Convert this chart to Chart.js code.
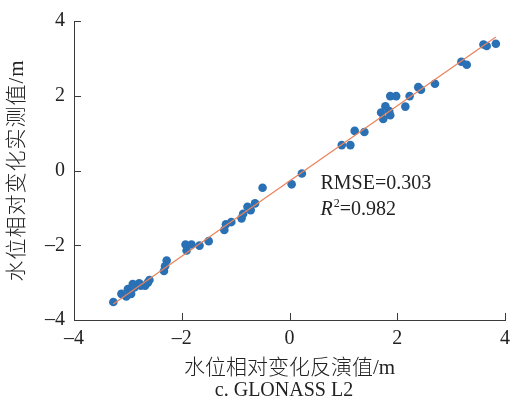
<!DOCTYPE html>
<html>
<head>
<meta charset="utf-8">
<script src="https://cdn.jsdelivr.net/npm/chart.js@4/dist/chart.umd.min.js"></script>
<style>
html,body{margin:0;padding:0;background:#fff;}
#wrap{width:517px;height:409px;}
</style>
</head>
<body>
<div id="wrap"><canvas id="c" width="517" height="409"></canvas></div>
<script>
// ---- data ----
const obsX = [-3.27,-3.12,-3.03,-3.00,-2.96,-2.94,-2.91,-2.88,-2.79,-2.76,-2.68,-2.63,-2.60,
  -2.33,-2.31,-2.28,-1.93,-1.91,-1.82,-1.67,-1.50,-1.21,-1.18,-1.08,-0.89,-0.86,-0.78,-0.72,-0.64,-0.50,
  0.04,0.23,0.97,1.13,1.21,1.39,1.70,1.74,1.78,1.85,1.87,1.87,1.98,2.15,2.23,2.39,2.44,2.70,3.19,3.29,3.60,3.66,3.83];
const obsY = [-3.52,-3.30,-3.37,-3.17,-3.22,-3.30,-3.04,-3.13,-3.02,-3.08,-3.08,-3.00,-2.93,
  -2.69,-2.56,-2.41,-1.98,-2.14,-1.98,-2.01,-1.89,-1.59,-1.44,-1.38,-1.28,-1.16,-0.97,-1.06,-0.88,-0.46,
  -0.37,-0.08,0.68,0.68,1.06,1.03,1.55,1.38,1.72,1.59,1.48,1.99,1.99,1.71,1.99,2.23,2.16,2.32,2.91,2.83,3.37,3.33,3.39];
const fitX = [-3.27, 3.83];
const fitY = [-3.57, 3.57];
const tickValues = [-4,-2,0,2,4];
const xTitle = "水位相对变化反演值/m";
const yTitle = "水位相对变化实测值/m";
const caption = "c. GLONASS L2";
const rmseText = "RMSE=0.303";
const r2Value = "=0.982";

const serif = '"Liberation Serif", "Noto Sans CJK SC", serif';
const axisColor = '#3a3a3a';

const extras = {
  id: 'extras',
  afterDraw(chart) {
    const ctx = chart.ctx;
    const xs = chart.scales.x, ys = chart.scales.y;
    const ca = chart.chartArea;
    ctx.save();
    // inward ticks
    ctx.strokeStyle = axisColor;
    ctx.lineWidth = 1;
    ctx.beginPath();
    tickValues.forEach(v => {
      const px = Math.round(xs.getPixelForValue(v)) + 0.5;
      ctx.moveTo(px, ca.bottom); ctx.lineTo(px, ca.bottom - 7);
      const py = Math.round(ys.getPixelForValue(v)) + 0.5;
      ctx.moveTo(ca.left, py); ctx.lineTo(ca.left + 7, py);
    });
    ctx.stroke();

    ctx.fillStyle = '#222';
    // annotation
    ctx.textBaseline = 'middle';
    ctx.textAlign = 'left';
    ctx.font = '20px ' + serif;
    const ax = 320.5;
    ctx.fillText(rmseText, ax, 184);
    ctx.font = 'italic 20px ' + serif;
    ctx.fillText('R', ax, 210);
    let w = ctx.measureText('R').width;
    ctx.font = '12px ' + serif;
    ctx.fillText('2', ax + w + 1, 204);
    let w2 = ctx.measureText('2').width;
    ctx.font = '20px ' + serif;
    ctx.fillText(r2Value, ax + w + w2 + 1, 210);

    // x title
    ctx.textAlign = 'center';
    ctx.font = '300 21px ' + serif;
    ctx.fillText(xTitle, (ca.left + ca.right) / 2, 368);
    // caption
    ctx.font = '20px ' + serif;
    ctx.fillText(caption, 284, 391);
    // y title
    ctx.save();
    ctx.translate(17, (ca.top + ca.bottom) / 2);
    ctx.rotate(-Math.PI / 2);
    ctx.font = '300 21px ' + serif;
    if ('letterSpacing' in ctx) ctx.letterSpacing = '1px';
    ctx.fillText(yTitle, 0, 0);
    ctx.restore();
    ctx.restore();
  }
};

const points = obsX.map((x, i) => ({x: x, y: obsY[i]}));
const fitLine = fitX.map((x, i) => ({x: x, y: fitY[i]}));
const dashLabel = v => (v < 0 ? '\u2013' + Math.abs(v) : String(v));

new Chart(document.getElementById('c'), {
  type: 'scatter',
  data: {
    datasets: [
      {
        data: fitLine, showLine: true, pointRadius: 0, borderColor: '#e9845c',
        borderWidth: 1.3, order: 0, clip: false
      },
      {
        data: points, pointRadius: 4.3, backgroundColor: '#2a70b5', borderColor: '#2a70b5',
        borderWidth: 0, order: 1, clip: false
      }
    ]
  },
  options: {
    responsive: false,
    animation: false,
    events: [],
    layout: { padding: { top: 17, right: 8, left: 0, bottom: 0 } },
    plugins: { legend: { display: false }, tooltip: { enabled: false }, title: { display: false } },
    scales: {
      x: {
        type: 'linear', min: -4, max: 4,
        afterFit: s => { s.height = 89; },
        afterBuildTicks: s => { s.ticks = tickValues.map(v => ({value: v})); },
        ticks: { padding: 7, color: '#222', font: { family: serif, size: 20 }, callback: dashLabel, maxRotation: 0 },
        grid: { drawOnChartArea: false, drawTicks: false },
        border: { display: true, color: axisColor, width: 1 }
      },
      y: {
        type: 'linear', min: -4, max: 4,
        afterFit: s => { s.width = 74; },
        afterBuildTicks: s => { s.ticks = tickValues.map(v => ({value: v})); },
        ticks: { padding: 9, color: '#222', font: { family: serif, size: 20 }, callback: dashLabel },
        grid: { drawOnChartArea: false, drawTicks: false },
        border: { display: true, color: axisColor, width: 1 }
      }
    }
  },
  plugins: [extras]
});
</script>
</body>
</html>
